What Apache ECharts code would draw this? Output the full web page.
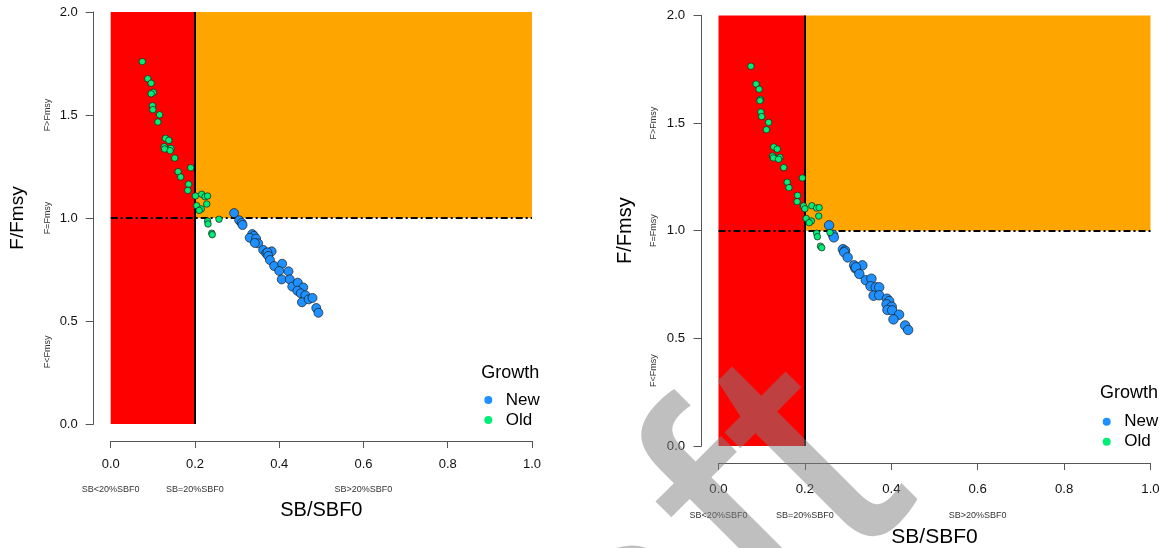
<!DOCTYPE html>
<html>
<head>
<meta charset="utf-8">
<script src="https://cdn.jsdelivr.net/npm/echarts@6/dist/echarts.min.js"></script>
<style>
html,body{margin:0;padding:0;background:#fff;}
#chart{width:1164px;height:548px;}
</style>
</head>
<body>
<div id="chart"></div>
<script>
// ---------------- data ----------------
const xTicks = [0, 0.2, 0.4, 0.6, 0.8, 1.0];
const yTicks = [0, 0.5, 1.0, 1.5, 2.0];
const xSubAt = [0, 0.2, 0.6];
const xSubText = ['SB<20%SBF0', 'SB=20%SBF0', 'SB>20%SBF0'];
const ySubAt = [0.35, 1.0, 1.5];
const ySubText = ['F<Fmsy', 'F=Fmsy', 'F>Fmsy'];
const limitSB = 0.2;
const limitF = 1.0;
const seriesNames = ['New', 'Old'];

const leftOld = [[0.075,1.759],[0.088,1.676],[0.096,1.654],[0.101,1.610],[0.096,1.603],[0.099,1.545],[0.100,1.526],[0.116,1.501],[0.112,1.466],[0.130,1.387],[0.138,1.377],[0.127,1.346],[0.128,1.335],[0.143,1.338],[0.141,1.327],[0.152,1.291],[0.190,1.244],[0.160,1.225],[0.166,1.199],[0.185,1.164],[0.183,1.134],[0.201,1.107],[0.216,1.115],[0.224,1.103],[0.230,1.107],[0.228,1.068],[0.204,1.060],[0.215,1.044],[0.210,1.037],[0.230,0.985],[0.231,0.971],[0.257,0.994],[0.240,0.926],[0.241,0.919]];
const leftNew = [[0.293,1.024],[0.305,0.989],[0.311,0.976],[0.313,0.966],[0.336,0.922],[0.340,0.913],[0.330,0.904],[0.345,0.900],[0.350,0.877],[0.342,0.879],[0.362,0.845],[0.382,0.838],[0.369,0.829],[0.372,0.833],[0.374,0.816],[0.378,0.796],[0.388,0.767],[0.407,0.778],[0.400,0.743],[0.406,0.702],[0.422,0.741],[0.425,0.702],[0.431,0.667],[0.444,0.686],[0.457,0.663],[0.443,0.647],[0.451,0.634],[0.462,0.625],[0.454,0.591],[0.470,0.605],[0.479,0.612],[0.488,0.563],[0.493,0.540]];
const rightOld = [[0.075,1.764],[0.087,1.681],[0.094,1.657],[0.097,1.610],[0.096,1.604],[0.098,1.551],[0.100,1.530],[0.116,1.503],[0.111,1.469],[0.128,1.389],[0.136,1.379],[0.125,1.347],[0.127,1.338],[0.142,1.341],[0.139,1.332],[0.151,1.293],[0.194,1.245],[0.159,1.225],[0.163,1.200],[0.183,1.164],[0.182,1.135],[0.197,1.115],[0.200,1.102],[0.216,1.116],[0.227,1.105],[0.233,1.107],[0.232,1.068],[0.203,1.057],[0.215,1.045],[0.210,1.037],[0.227,0.988],[0.229,0.972],[0.258,0.992],[0.236,0.928],[0.239,0.921]];
const rightNew = [[0.256,1.025],[0.265,0.981],[0.267,0.969],[0.288,0.914],[0.293,0.907],[0.291,0.900],[0.299,0.876],[0.314,0.839],[0.333,0.839],[0.317,0.825],[0.318,0.830],[0.326,0.799],[0.341,0.770],[0.354,0.777],[0.352,0.742],[0.364,0.737],[0.372,0.737],[0.359,0.698],[0.372,0.700],[0.390,0.684],[0.395,0.673],[0.389,0.658],[0.401,0.647],[0.391,0.632],[0.402,0.630],[0.418,0.610],[0.405,0.588],[0.432,0.560],[0.439,0.539]];

// ---------------- styling / layout ----------------
const FONT = "'Liberation Sans', Arial, sans-serif";
const COL_NEW = '#1E90FF';
const COL_OLD = '#00EE76';
const panels = [
  {grid:{left:110.7, top:12, width:421.3, height:412}, tickFont:13, titleFont:20, yTitleFont:19,
   xLabMargin:17, xSubMargin:44.5, xNameGap:59, yLabMargin:16, ySubMargin:41.5, yNameGap:66,
   newData:leftNew, oldData:leftOld, newSize:9, oldSize:6.5,
   legend:{left:484.3, top:390}, growth:[510.3, 373]},
  {grid:{left:718.5, top:15.4, width:432, height:430.6}, tickFont:13.2, titleFont:21, yTitleFont:20,
   xLabMargin:20, xSubMargin:48, xNameGap:64, yLabMargin:16.3, ySubMargin:43.8, yNameGap:66,
   newData:rightNew, oldData:rightOld, newSize:9.5, oldSize:6.5,
   legend:{left:1102.7, top:411.7}, growth:[1129, 393]}
];

function near(v, arr){ for (let i=0;i<arr.length;i++){ if (Math.abs(v-arr[i])<1e-6) return i; } return -1; }

const option = {
  animation:false,
  backgroundColor:'#ffffff',
  textStyle:{fontFamily:FONT},
  grid:[], xAxis:[], yAxis:[], series:[], legend:[], graphic:[]
};

panels.forEach((p, i) => {
  option.grid.push(Object.assign({containLabel:false, outerBoundsMode:'none'}, p.grid));
  const axisLine = {show:true, onZero:false, lineStyle:{color:'#555', width:1}};
  // main x axis
  option.xAxis.push({
    type:'value', gridIndex:i, position:'bottom', min:0, max:1, interval:0.2, offset:17,
    axisLine:axisLine, axisTick:{show:true, length:7, lineStyle:{color:'#555'}},
    splitLine:{show:false},
    axisLabel:{fontSize:p.tickFont, color:'#111', margin:p.xLabMargin, fontFamily:FONT,
      formatter:v => (near(v, xTicks) >= 0 ? v.toFixed(1) : '')},
    name:'SB/SBF0', nameLocation:'middle', nameGap:p.xNameGap,
    nameTextStyle:{fontSize:p.titleFont, color:'#000', fontFamily:FONT}
  });
  // sub-label x axis
  option.xAxis.push({
    type:'value', gridIndex:i, position:'bottom', min:0, max:1, interval:0.2, offset:17,
    axisLine:{show:false, onZero:false}, axisTick:{show:false}, splitLine:{show:false},
    axisLabel:{fontSize:9, color:'#333', margin:p.xSubMargin, fontFamily:FONT,
      formatter:v => { const k = near(v, xSubAt); return k>=0 ? xSubText[k] : ''; }}
  });
  // main y axis
  option.yAxis.push({
    type:'value', gridIndex:i, position:'left', min:0, max:2, interval:0.5, offset:17,
    axisLine:axisLine, axisTick:{show:true, length:8, lineStyle:{color:'#555'}},
    splitLine:{show:false},
    axisLabel:{fontSize:p.tickFont, color:'#111', margin:p.yLabMargin, fontFamily:FONT,
      formatter:v => (near(v, yTicks) >= 0 ? v.toFixed(1) : '')},
    name:'F/Fmsy', nameLocation:'middle', nameGap:p.yNameGap,
    nameTextStyle:{fontSize:p.yTitleFont, color:'#000', fontFamily:FONT}
  });
  // sub-label y axis
  option.yAxis.push({
    type:'value', gridIndex:i, position:'left', min:0, max:2, interval:0.05, offset:17,
    axisLine:{show:false, onZero:false}, axisTick:{show:false}, splitLine:{show:false},
    axisLabel:{fontSize:9, color:'#333', margin:p.ySubMargin, rotate:90, fontFamily:FONT,
      formatter:v => { const k = near(Math.round(v*100)/100, ySubAt); return k>=0 ? ySubText[k] : ''; }}
  });
  const xi = i*2, yi = i*2;
  // zones
  option.series.push({
    type:'scatter', name:'zones'+i, xAxisIndex:xi, yAxisIndex:yi, data:[], silent:true,
    markArea:{silent:true, z:1, label:{show:false},
      data:[
        [{coord:[0,0], itemStyle:{color:'#FF0000', opacity:1}}, {coord:[limitSB,2]}],
        [{coord:[limitSB,limitF], itemStyle:{color:'#FFA500', opacity:1}}, {coord:[1,2]}]
      ]}
  });
  option.series.push({
    type:'scatter', name:'lines'+i, xAxisIndex:xi, yAxisIndex:yi, data:[], silent:true,
    markLine:{silent:true, z:2, symbol:['none','none'], label:{show:false},
      emphasis:{disabled:true},
      data:[
        [{coord:[limitSB,0], lineStyle:{color:'#000', width:2, type:'solid'}}, {coord:[limitSB,2]}],
        [{coord:[0,limitF], lineStyle:{color:'#000', width:2, type:[7,3,2,3]}}, {coord:[1,limitF]}]
      ]}
  });
  option.series.push({
    type:'scatter', name:'New', xAxisIndex:xi, yAxisIndex:yi, z:10,
    symbolSize:p.newSize, data:p.newData,
    itemStyle:{color:COL_NEW, borderColor:'#1a1a1a', borderWidth:0.7, opacity:1}
  });
  option.series.push({
    type:'scatter', name:'Old', xAxisIndex:xi, yAxisIndex:yi, z:11,
    symbolSize:p.oldSize, data:p.oldData,
    itemStyle:{color:COL_OLD, borderColor:'#1a1a1a', borderWidth:0.7, opacity:1}
  });
  option.legend.push({
    data:seriesNames, orient:'vertical', left:p.legend.left, top:p.legend.top,
    icon:'circle', itemWidth:8, itemHeight:8, itemGap:0, selectedMode:false, padding:0,
    itemStyle:{borderWidth:0},
    textStyle:{fontSize:17, color:'#000', lineHeight:20, padding:[0,0,0,8.5], fontFamily:FONT}
  });
  option.graphic.push({
    type:'text', x:p.growth[0], y:p.growth[1], z:50,
    style:{text:'Growth', font:"18px 'Liberation Sans', Arial, sans-serif", fill:'#000', align:'center', verticalAlign:'middle'}
  });
});

// watermark
option.graphic.push({
  type:'text', x:852, y:430, rotation:Math.PI/4, z:100, silent:true,
  style:{text:'Draft', font:"350px 'Liberation Sans', Arial, sans-serif", fill:'rgba(128,128,128,0.5)', align:'right', verticalAlign:'middle'}
});

const chart = echarts.init(document.getElementById('chart'), null, {renderer:'canvas'});
chart.setOption(option);
</script>
</body>
</html>
